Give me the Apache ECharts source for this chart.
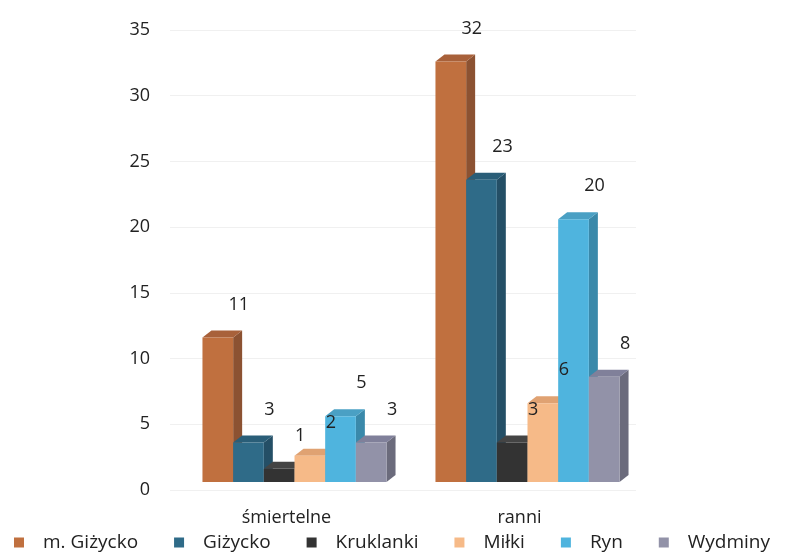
<!DOCTYPE html>
<html>
<head>
<meta charset="utf-8">
<script src="https://cdn.jsdelivr.net/npm/echarts@6/dist/echarts.min.js"></script>
<style>
  html, body { margin: 0; padding: 0; background: #fff; }
  #chart { width: 789px; height: 558px; }
</style>
</head>
<body>
<div id="chart"></div>
<script>
  // dane
  var categories = ['śmiertelne', 'ranni']
  var seriesNames = ['m. Giżycko', 'Giżycko', 'Kruklanki', 'Miłki', 'Ryn', 'Wydminy']
  var mGizycko = [11, 32]
  var gizycko = [3, 23]
  var kruklanki = [1, 3]
  var milki = [2, 6]
  var ryn = [5, 20]
  var wydminy = [3, 8]
  var yTicks = [0, 5, 10, 15, 20, 25, 30, 35]

  var values = [mGizycko, gizycko, kruklanki, milki, ryn, wydminy]
  var colors = ['#c0703f', '#2f6b88', '#333333', '#f6ba88', '#4fb4de', '#9292a8']
  var sideColors = ['#8c5232', '#244f66', '#222222', '#c98f63', '#3a89aa', '#6b6b7c']
  var topColors = ['#a8613a', '#2a5e78', '#444444', '#e0a272', '#4aa0c4', '#80809a']

  var chart = echarts.init(document.getElementById('chart'))

  // fake 3D: glebokosc i przesuniecie slupkow
  var DEPTH_X = 9
  var DEPTH_Y = 7
  var SHIFT_X = 8
  var SHIFT_Y = 8
  var GROUP_RATIO = 0.79

  function makeRender(si) {
    return function (params, api) {
      var cat = api.value(0)
      var val = api.value(1)
      var base = api.coord([cat, 0])
      var top = api.coord([cat, val])
      var band = api.size([1, 0])[0]
      var groupW = band * GROUP_RATIO
      var barW = groupW / seriesNames.length
      var x0 = base[0] + SHIFT_X - groupW / 2 + si * barW
      var x1 = x0 + barW
      var yb = base[1] - SHIFT_Y
      var yt = top[1] - SHIFT_Y
      return {
        type: 'group',
        children: [
          {
            type: 'polygon',
            shape: { points: [[x1, yt], [x1 + DEPTH_X, yt - DEPTH_Y], [x1 + DEPTH_X, yb - DEPTH_Y], [x1, yb]] },
            style: { fill: sideColors[si] }
          },
          {
            type: 'polygon',
            shape: { points: [[x0, yt], [x0 + DEPTH_X, yt - DEPTH_Y], [x1 + DEPTH_X, yt - DEPTH_Y], [x1, yt]] },
            style: { fill: topColors[si] }
          },
          {
            type: 'rect',
            shape: { x: x0, y: yt, width: barW, height: yb - yt },
            style: { fill: colors[si] }
          },
          {
            type: 'text',
            style: {
              x: x0 + barW / 2 + 21,
              y: yt - 33,
              text: String(val),
              fill: '#222',
              font: '18px "Open Sans", sans-serif',
              align: 'center',
              verticalAlign: 'middle'
            },
            z2: 10
          }
        ]
      }
    }
  }

  var series = seriesNames.map(function (name, si) {
    return {
      name: name,
      type: 'custom',
      renderItem: makeRender(si),
      itemStyle: { color: colors[si] },
      encode: { x: 0, y: 1 },
      data: values[si].map(function (v, ci) { return [ci, v] })
    }
  })

  chart.setOption({
    backgroundColor: '#fff',
    textStyle: { fontFamily: '"Open Sans", sans-serif' },
    grid: {
      left: 170,
      right: 153,
      top: 30,
      bottom: 68
    },
    legend: {
      bottom: 6,
      left: 14,
      width: 775,
      padding: 0,
      icon: 'rect',
      itemWidth: 10,
      itemHeight: 10,
      itemGap: 36,
      data: seriesNames,
      textStyle: {
        fontSize: 19,
        color: '#222',
        padding: [0, 0, 0, 14]
      }
    },
    xAxis: {
      type: 'category',
      data: categories,
      axisLine: { show: false },
      axisTick: { show: false },
      axisLabel: {
        margin: 19,
        fontSize: 18,
        color: '#222'
      }
    },
    yAxis: {
      type: 'value',
      min: yTicks[0],
      max: yTicks[yTicks.length - 1],
      interval: 5,
      axisLine: { show: false },
      axisTick: { show: false },
      axisLabel: {
        margin: 20,
        fontSize: 18,
        color: '#222'
      },
      splitLine: {
        lineStyle: {
          color: '#f0f0f0'
        }
      }
    },
    series: series
  })
</script>
</body>
</html>
